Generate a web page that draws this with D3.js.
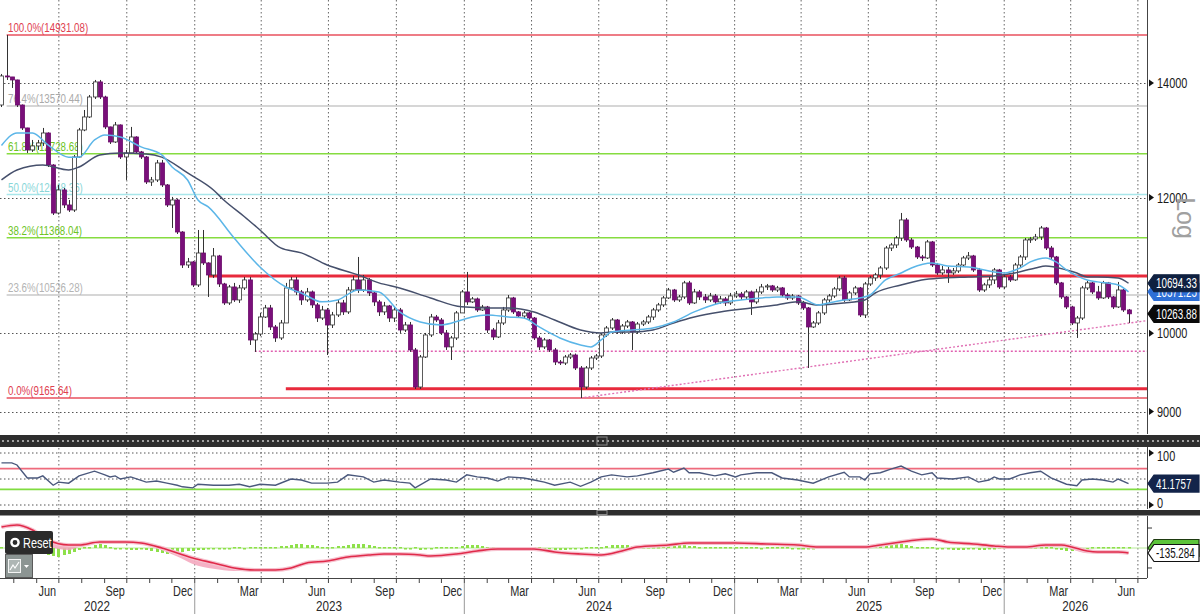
<!DOCTYPE html>
<html>
<head>
<meta charset="utf-8">
<script src="https://cdn.jsdelivr.net/npm/d3@7"></script>
<style>
  body { margin: 0; background: #fff; }
  svg { display: block; font-family: "Liberation Sans", Arial, sans-serif; }
</style>
</head>
<body>
<div id="chart"></div>
<script>
// weekly candles, first one is the week of 15 Apr 2022
const firstWeek = new Date(2022, 3, 15);
const firstOpen = 13590;

const closes = [
  14131,14112,14055,13590,13177,12793,12862,12914,13088,12537,
  11753,12123,11881,11801,12673,13141,13373,13737,14018,13737,
  13195,12931,13230,12673,12741,13018,12759,12673,12254,12287,
  12571,12205,11881,11961,11457,10960,11005,10670,11138,10990,
  10814,11094,10684,10415,10641,10457,10627,10742,9909,9989,
  10220,10345,10084,9936,10138,10627,10742,10570,10457,10570,
  10387,10206,10317,10111,10248,10415,10290,10598,10742,10598,
  10742,10556,10429,10290,10373,10206,10317,10043,10111,9777,
  9302,9685,9976,10220,10179,10003,9817,9936,10276,10570,
  10429,10471,10317,10359,10043,9949,10138,10317,10485,10290,
  10234,10276,10206,9936,9817,9909,9777,9620,9607,9685,
  9711,9543,9302,9543,9672,9698,9976,10070,10179,10016,
  10097,10152,10016,10124,10152,10220,10317,10387,10485,10598,
  10457,10499,10699,10415,10570,10499,10457,10513,10429,10471,
  10415,10513,10541,10499,10570,10429,10570,10641,10656,10598,
  10627,10527,10485,10513,10415,10345,10084,10138,10276,10457,
  10513,10613,10771,10457,10556,10627,10248,10684,10771,10814,
  10916,11213,11259,11365,11644,11335,11228,11079,11064,11305,
  10960,10844,10887,10844,10873,10960,11064,11094,10887,10598,
  10670,10742,10887,10641,10785,10742,10960,11079,11335,11350,
  11381,11519,11213,11079,10699,10499,10359,10138,10206,10627,
  10699,10570,10485,10699,10499,10359,10598,10317,10263.88
];

const highs = [
  14169,14931,14112,14060,13600,13180,12966,12966,13177,13100,
  12550,12205,12156,11961,12707,13177,13499,13774,14055,14055,
  13760,13200,13283,13240,12793,13195,13030,12776,12690,12337,
  12622,12622,12220,12010,11980,11470,11064,11020,11488,11488,
  11000,11213,11110,10700,10670,10699,10670,10785,10785,10016,
  10276,10387,10387,10111,10179,10699,10785,10785,10598,10627,
  10590,10415,10373,10345,10290,10457,10457,10641,10800,11079,
  10814,10771,10584,10457,10429,10387,10359,10345,10152,10152,
  9803,9711,10003,10262,10248,10206,10043,9963,10303,10598,
  10858,10499,10490,10387,10373,10070,10179,10359,10527,10500,
  10303,10303,10290,10220,9963,9936,9922,9803,9646,9711,
  9737,9730,9568,9568,9698,9724,10003,10097,10206,10193,
  10124,10179,10165,10152,10179,10248,10345,10415,10513,10627,
  10613,10527,10728,10728,10613,10598,10541,10556,10541,10513,
  10499,10556,10584,10570,10598,10590,10613,10684,10684,10670,
  10656,10641,10556,10541,10527,10443,10359,10165,10303,10485,
  10541,10641,10800,10800,10584,10656,10641,10713,10800,10844,
  10945,11244,11290,11396,11754,11675,11365,11244,11109,11335,
  11320,10990,10945,10931,10916,10990,11094,11153,11110,10916,
  10699,10785,10916,10902,10814,10814,10990,11109,11365,11381,
  11427,11550,11535,11244,11094,10713,10513,10375,10234,10656,
  10728,10713,10656,10728,10713,10513,10713,10613,10331
];

const lows = [
  13553,14055,13905,13553,13141,12741,12759,12793,12862,12503,
  11722,11730,11833,11770,11770,12656,13120,13355,13700,13700,
  13159,12896,12914,12639,12287,12724,12724,12639,12221,12189,
  12254,12172,11849,11519,11426,10916,10916,10641,10641,10960,
  10499,10771,10641,10387,10387,10429,10415,10598,9843,9751,
  9963,10206,10043,9883,9909,10138,10598,10527,10387,10429,
  10345,10152,10179,9711,10070,10220,10248,10262,10570,10556,
  10570,10513,10373,10234,10248,10152,10152,10003,10016,9751,
  9277,9277,9672,9949,10152,9976,9777,9646,9909,10276,
  10387,10415,10290,10303,10003,9909,9936,10111,10290,10262,
  10206,10206,10179,9909,9777,9790,9751,9581,9581,9581,
  9659,9517,9165.64,9277,9517,9646,9672,9949,10043,9990,
  9990,10070,9777,9990,10097,10124,10179,10290,10359,10471,
  10429,10429,10471,10387,10401,10457,10415,10429,10401,10401,
  10373,10387,10485,10457,10471,10248,10401,10541,10598,10570,
  10570,10499,10457,10457,10387,10317,9543,10070,10111,10248,
  10429,10485,10584,10429,10443,10527,10220,10206,10656,10728,
  10756,10887,11168,11213,11320,11305,11198,11049,11020,11049,
  10931,10814,10814,10699,10814,10844,10931,11034,10858,10570,
  10570,10627,10684,10613,10613,10713,10728,10931,11034,11290,
  11320,11335,11183,11049,10670,10471,10331,10111,9936,10179,
  10598,10541,10457,10471,10471,10331,10345,10290,10138
];

// moving averages (week index, value)
const fastWeeks = [0,3,6,9,13,15,18,20,23,27,31,33,36,38,40,45,50,55,58,62,65,69,73,77,81,85,89,91,94,98,101,104,108,112,114,116,118,122,126,130,134,139,143,147,150,154,158,160,163,166,168,171,174,176,180,183,187,192,194,197,199,202,204,206,208,210,212,216,218];
const fastValues = [12870,13090,13090,12880,12670,12670,12966,13053,13018,12845,12707,12503,12287,11961,11850,11365,10930,10640,10555,10430,10457,10598,10570,10290,10152,10111,10179,10220,10248,10220,10206,10084,9936,9843,9817,9909,10016,10043,10070,10152,10290,10415,10457,10485,10500,10500,10387,10415,10457,10485,10527,10742,10843,10916,10990,10945,10930,10858,10843,10916,11005,11065,11005,10887,10800,10742,10714,10670,10571.25];

const slowWeeks = [0,3,8,13,15,19,23,28,31,36,41,43,47,50,54,58,63,69,73,77,83,89,94,98,103,107,112,116,118,122,126,130,134,139,145,150,154,158,163,167,169,174,178,182,187,192,196,200,202,206,208,210,212,216,218];
const slowValues = [12287,12453,12537,12453,12503,12707,12740,12724,12670,12403,12123,11961,11695,11488,11214,11140,10960,10814,10700,10627,10485,10360,10345,10345,10290,10179,10043,10003,10016,10016,10043,10138,10220,10290,10345,10387,10430,10387,10415,10457,10555,10670,10742,10770,10785,10800,10843,10916,10945,10887,10843,10785,10785,10770,10694.33];

// RSI
const rsiWeeks = [0,2,3,5,7,8,10,11,13,15,18,20,21,22,23,25,28,30,32,34,35,37,38,41,44,46,48,50,53,56,58,60,63,65,67,70,72,74,77,79,80,83,86,88,90,92,94,96,98,101,103,105,107,110,112,114,116,118,121,123,126,129,130,132,133,135,138,140,142,143,146,149,151,154,157,160,163,164,166,167,168,170,172,174,176,178,180,181,184,187,189,191,192,193,195,197,199,201,203,206,208,209,211,213,215,216,218];
const rsiValues = [81,81,77,52,52,56,38,44,42,56,65,58,54,56,50,54,44,46,42,38,35,33,40,38,38,40,35,40,38,50,48,42,42,44,58,54,44,48,44,42,33,50,48,44,58,54,52,46,54,52,48,44,38,44,36,44,54,58,54,56,62,69,63,71,62,62,56,60,54,58,62,62,52,48,42,54,63,54,54,48,60,62,69,75,65,58,62,52,50,54,44,48,54,50,50,58,62,65,52,40,37,48,50,48,44,50,41.1757];
const rsiUpper = 70;
const rsiLower = 30;

// MACD
const macdWeeks = [0,3,6,9,13,15,19,24,27,31,34,37,41,45,49,53,56,59,63,67,71,74,77,81,83,88,92,96,103,107,112,116,120,123,129,133,137,142,148,154,158,162,167,170,174,177,180,183,188,192,195,198,202,205,207,210,212,216,218];
const macdValues = [567,621,486,216,81,81,162,162,135,0,-135,-270,-405,-540,-594,-594,-540,-405,-351,-243,-189,-162,-162,-189,-216,-162,-81,-27,-27,-108,-162,-189,-81,27,81,135,135,135,108,81,27,27,27,81,162,216,243,162,108,54,27,27,81,81,27,-81,-108,-108,-135.284];
const signalValues = [567,621,405,54,-54,27,162,162,135,-54,-230,-430,-560,-620,-610,-594,-540,-405,-351,-243,-189,-162,-162,-189,-216,-162,-81,-27,-27,-108,-162,-189,-81,27,81,135,135,135,108,81,27,27,27,110,200,260,270,190,108,54,27,27,81,81,-30,-140,-130,-110,-135];
const histValues = [
  27,0,-27,-54,-81,-81,-108,-135,-162,-189,
  -216,-243,-189,-162,-108,-54,0,27,81,108,81,27,
  -27,-27,-27,-54,-54,-27,-54,
  -81,-108,-135,-162,-162,-135,-108,-81,
  -81,-54,-54,-27,-27,-27,-27,-27,0,0,-27,0,0,27,
  0,27,27,54,54,81,108,108,81,81,54,27,27,27,54,54,
  81,108,108,108,81,54,27,27,0,0,0,-27,-27,0,
  -54,-27,-27,0,0,0,27,27,54,81,81,81,54,27,
  27,27,27,0,0,0,0,0,0,0,-27,-27,-54,-54,-54,-27,-27,-27,
  0,0,0,27,54,81,81,81,81,54,27,27,27,0,27,
  54,81,108,108,81,54,54,27,27,0,0,0,0,
  0,0,0,0,0,0,-27,0,0,0,0,0,-27,-27,-27,-27,-27,0,0,0,
  0,0,0,0,27,27,27,54,81,81,108,108,135,108,81,54,27,27,0,0,
  -27,-27,-27,-54,-54,-54,-27,-27,-54,-54,-27,-27,
  0,0,0,0,0,27,27,27,27,27,0,
  -27,-54,-81,-81,-54,-27,-27,0,0,0,0,0,0,0,0
];

// fibonacci retracement and drawn levels
const fibLabels = ["100.0%(14931.08)", "76.4%(13570.44)", "61.8%(12728.68)", "50.0%(12048.36)", "38.2%(11368.04)", "23.6%(10526.28)", "0.0%(9165.64)"];
const fibValues = [14931.08, 13570.44, 12728.68, 12048.36, 11368.04, 10526.28, 9165.64];
const fibFromWeek = 1;
const redLevels = [10800, 9280];
const redLevelWeeks = [40, 55];
const pinkLevel = 9760;
const pinkLevelWeek = 49;
const trendStart = [112, 9165.64];
const trendEnd = [new Date(2026, 6, 14), 10170];

const priceTicks = [14000, 12000, 10000, 9000];
const rsiTicks = [100, 0];
const rsiGrid = [100, 50, 0];
const macdTicks = [540, -540];

// ---------------------------------------------------------------
const W = 1200, H = 614, plotR = 1147;
const weekDate = i => d3.timeDay.offset(firstWeek, 7 * i);

const svg = d3.select("#chart").append("svg")
  .attr("width", W).attr("height", H);

const x = d3.scaleTime()
  .domain([new Date(2022, 3, 13), new Date(2026, 6, 14)])
  .range([0, plotR]);
const y = d3.scaleLog().domain([8756, 15650]).range([432, 0]);
const yRsi = d3.scaleLinear().domain([0, 100]).range([505, 453]);
const yMacd = d3.scaleLinear().domain([-1000, 900]).range([585, 514.7]);

const [d0, d1] = x.domain();

// clip for the panels
svg.append("clipPath").attr("id", "mainClip")
  .append("rect").attr("x", 0).attr("y", 0).attr("width", plotR).attr("height", 434);
svg.append("clipPath").attr("id", "lowClip")
  .append("rect").attr("x", 0).attr("y", 447).attr("width", plotR).attr("height", 140);

// vertical quarter gridlines
const quarters = d3.timeMonth.every(3).range(d0, d1);
svg.append("g").selectAll("line").data(quarters).join("line")
  .attr("x1", d => x(d) + 0.5).attr("x2", d => x(d) + 0.5)
  .attr("y1", 0).attr("y2", 578)
  .attr("stroke", "#666").attr("stroke-width", 1).attr("stroke-dasharray", "1.5,2.5");

// horizontal price gridlines
const main = svg.append("g").attr("clip-path", "url(#mainClip)");
main.append("g").selectAll("line").data(priceTicks).join("line")
  .attr("x1", 0).attr("x2", plotR)
  .attr("y1", d => Math.round(y(d)) + 0.5).attr("y2", d => Math.round(y(d)) + 0.5)
  .attr("stroke", "#555").attr("stroke-dasharray", "1.5,2.5");

// fibonacci lines and labels
const fibLine = ["#e8505e", "#c8c8c8", "#86dc40", "#a8e6ea", "#86dc40", "#c8c8c8", "#e8505e"];
const fibText = ["#e0404f", "#aaaaaa", "#6cc424", "#88d6d8", "#6cc424", "#b4b4b4", "#e0404f"];
const fx = x(weekDate(fibFromWeek));
fibValues.forEach((v, i) => {
  main.append("line")
    .attr("x1", fx).attr("x2", plotR)
    .attr("y1", y(v)).attr("y2", y(v))
    .attr("stroke", fibLine[i]).attr("stroke-width", 1.6);
  main.append("text")
    .attr("x", 8).attr("y", y(v) - 3)
    .attr("font-size", 12.5).attr("fill", fibText[i])
    .text(fibLabels[i]);
});

// drawn support / resistance
redLevels.forEach((v, i) => {
  main.append("line")
    .attr("x1", x(weekDate(redLevelWeeks[i]))).attr("x2", plotR)
    .attr("y1", y(v)).attr("y2", y(v))
    .attr("stroke", "#e82a3c").attr("stroke-width", 3);
});
main.append("line")
  .attr("x1", x(weekDate(pinkLevelWeek))).attr("x2", plotR)
  .attr("y1", y(pinkLevel)).attr("y2", y(pinkLevel))
  .attr("stroke", "#e060b0").attr("stroke-width", 1.6).attr("stroke-dasharray", "2,2");
main.append("line")
  .attr("x1", x(weekDate(trendStart[0]))).attr("y1", y(trendStart[1]))
  .attr("x2", x(trendEnd[0])).attr("y2", y(trendEnd[1]))
  .attr("stroke", "#e070b4").attr("stroke-width", 1.4).attr("stroke-dasharray", "2,2");

// candles
const candles = closes.map((c, i) => ({
  date: weekDate(i),
  open: i ? closes[i - 1] : firstOpen,
  high: highs[i], low: lows[i], close: c
}));
const cg = main.append("g");
cg.selectAll("line").data(candles).join("line")
  .attr("x1", d => Math.round(x(d.date)) + 0.5).attr("x2", d => Math.round(x(d.date)) + 0.5)
  .attr("y1", d => y(d.high)).attr("y2", d => y(d.low))
  .attr("stroke", "#333").attr("stroke-width", 1);
cg.selectAll("rect").data(candles).join("rect")
  .attr("x", d => Math.round(x(d.date)) - 1.5)
  .attr("width", 4)
  .attr("y", d => y(Math.max(d.open, d.close)))
  .attr("height", d => Math.max(1, y(Math.min(d.open, d.close)) - y(Math.max(d.open, d.close))))
  .attr("fill", d => d.close < d.open ? "#7a0f7a" : "#fff")
  .attr("stroke", d => d.close < d.open ? "#6a0a6a" : "#333")
  .attr("stroke-width", 0.8);

// moving averages
const maLine = d3.line()
  .x(d => x(weekDate(d[0]))).y(d => y(d[1]))
  .curve(d3.curveMonotoneX);
main.append("path").datum(slowWeeks.map((w, i) => [w, slowValues[i]]))
  .attr("d", maLine).attr("fill", "none")
  .attr("stroke", "#46506c").attr("stroke-width", 1.5);
main.append("path").datum(fastWeeks.map((w, i) => [w, fastValues[i]]))
  .attr("d", maLine).attr("fill", "none")
  .attr("stroke", "#5cb6e8").attr("stroke-width", 1.5);

// ---------------- RSI panel ----------------
const low = svg.append("g").attr("clip-path", "url(#lowClip)");
low.append("g").selectAll("line").data(rsiGrid).join("line")
  .attr("x1", 0).attr("x2", plotR)
  .attr("y1", d => yRsi(d)).attr("y2", d => yRsi(d))
  .attr("stroke", "#555").attr("stroke-dasharray", "1.5,2.5");
low.append("line").attr("x1", 0).attr("x2", plotR)
  .attr("y1", yRsi(rsiUpper)).attr("y2", yRsi(rsiUpper))
  .attr("stroke", "#ee6a7c").attr("stroke-width", 1.6);
low.append("line").attr("x1", 0).attr("x2", plotR)
  .attr("y1", yRsi(rsiLower)).attr("y2", yRsi(rsiLower))
  .attr("stroke", "#80dc40").attr("stroke-width", 1.6);
low.append("path")
  .datum(rsiWeeks.map((w, i) => [w, rsiValues[i]]))
  .attr("d", d3.line().x(d => x(weekDate(d[0]))).y(d => yRsi(d[1])))
  .attr("fill", "none").attr("stroke", "#4a587c").attr("stroke-width", 1.4);

// ---------------- MACD panel ----------------
low.append("line").attr("x1", 0).attr("x2", plotR)
  .attr("y1", yMacd(0)).attr("y2", yMacd(0))
  .attr("stroke", "#b8ea98").attr("stroke-width", 1);
low.append("g").selectAll("rect").data(histValues).join("rect")
  .attr("x", (d, i) => Math.round(x(weekDate(i))) - 1)
  .attr("width", 3)
  .attr("y", d => Math.min(yMacd(0), yMacd(d)) - (d === 0 ? 1 : 0))
  .attr("height", d => Math.max(1.5, Math.abs(yMacd(d) - yMacd(0))))
  .attr("fill", "#8ee04a");
const macdPts = macdWeeks.map((w, i) => [w, macdValues[i], signalValues[i]]);
low.append("path").datum(macdPts)
  .attr("d", d3.area().x(d => x(weekDate(d[0]))).y0(d => yMacd(d[1])).y1(d => yMacd(d[2])).curve(d3.curveMonotoneX))
  .attr("fill", "#f3a3bb").attr("opacity", 0.85);
low.append("path").datum(macdPts)
  .attr("d", d3.line().x(d => x(weekDate(d[0]))).y(d => yMacd(d[1])).curve(d3.curveMonotoneX))
  .attr("fill", "none").attr("stroke", "#f6c2cf").attr("stroke-width", 4);
low.append("path").datum(macdPts)
  .attr("d", d3.line().x(d => x(weekDate(d[0]))).y(d => yMacd(d[1])).curve(d3.curveMonotoneX))
  .attr("fill", "none").attr("stroke", "#e02a4a").attr("stroke-width", 1.6);

// ---------------- separators ----------------
svg.append("rect").attr("x", 0).attr("y", 435).attr("width", W).attr("height", 12).attr("fill", "#2e2e2e");
svg.append("line").attr("x1", 2).attr("x2", W).attr("y1", 441).attr("y2", 441)
  .attr("stroke", "#c8c8c8").attr("stroke-width", 1.4).attr("stroke-dasharray", "2,3");
svg.append("rect").attr("x", 0).attr("y", 510).attr("width", W).attr("height", 5.5).attr("fill", "#2e2e2e");
[[437, 8], [510.5, 4]].forEach(([gy, gh]) => {
  svg.append("rect").attr("x", 597).attr("y", gy).attr("width", 10).attr("height", gh)
    .attr("fill", "none").attr("stroke", "#8a8a8a").attr("stroke-width", 1);
});

// right border and axis
svg.append("g").selectAll("line").data([[0, 434], [447, 509], [516, 578]]).join("line")
  .attr("x1", plotR + 0.5).attr("x2", plotR + 0.5)
  .attr("y1", d => d[0]).attr("y2", d => d[1])
  .attr("stroke", "#444").attr("stroke-width", 1);

const arrow = (g, cy) => g.append("path")
  .attr("d", `M${plotR + 2},${cy - 3.5} L${plotR + 7},${cy} L${plotR + 2},${cy + 3.5} Z`)
  .attr("fill", "#111");

const axisR = svg.append("g").attr("font-size", 14).attr("fill", "#1a1a1a");
priceTicks.forEach(v => {
  arrow(axisR, y(v));
  axisR.append("text").attr("x", plotR + 10).attr("y", y(v)).attr("dy", "0.36em").text(v);
});
rsiTicks.forEach(v => {
  arrow(axisR, yRsi(v));
  axisR.append("text").attr("x", plotR + 10).attr("y", yRsi(v) + (v === 100 ? 3 : -2)).attr("dy", "0.36em").text(v);
});
macdTicks.forEach(v => {
  axisR.append("line").attr("x1", plotR).attr("x2", plotR + 5)
    .attr("y1", yMacd(v)).attr("y2", yMacd(v)).attr("stroke", "#333");
});

svg.append("text").attr("class", "wide")
  .attr("transform", "translate(1186,218) rotate(90)")
  .attr("text-anchor", "middle").attr("dy", "0.35em")
  .attr("font-size", 25).attr("fill", "#a0a0a0")
  .text("Log");

// value tags
function tag(cy, fill, stroke, color, label) {
  const h = 17, g = svg.append("g");
  g.append("path")
    .attr("d", `M${plotR + 1},${cy} L${plotR + 7},${cy - h / 2} H${W - 1} V${cy + h / 2} H${plotR + 7} Z`)
    .attr("fill", fill).attr("stroke", stroke).attr("stroke-width", 1.2);
  g.append("text").attr("class", "tag").attr("x", plotR + 9).attr("y", cy).attr("dy", "0.36em")
    .attr("font-size", 14).attr("fill", color).text(label);
}
const lastFast = fastValues[fastValues.length - 1];
const lastSlow = slowValues[slowValues.length - 1];
const lastClose = closes[closes.length - 1];
tag(y(lastFast), "#2e6fd6", "#2e6fd6", "#fff", lastFast.toFixed(2));
tag(y(lastSlow), "#0f2040", "#0f2040", "#fff", lastSlow.toFixed(2));
tag(y(lastClose), "#0a0a0a", "#0a0a0a", "#fff", lastClose.toFixed(2));
tag(yRsi(rsiValues[rsiValues.length - 1]), "#13244a", "#13244a", "#fff", rsiValues[rsiValues.length - 1].toFixed(4));
tag(yMacd(histValues[histValues.length - 1]), "#5cc43a", "#1e3a10", "#fff", "");
tag(yMacd(macdValues[macdValues.length - 1]), "#fff", "#111", "#111", macdValues[macdValues.length - 1].toFixed(3));

// ---------------- time axis ----------------
const ax = svg.append("g");
ax.append("line").attr("x1", 0).attr("x2", plotR).attr("y1", 578.5).attr("y2", 578.5)
  .attr("stroke", "#444");
const months = d3.timeMonth.range(d3.timeMonth.ceil(d0), d1);
ax.selectAll(".mt").data(months).join("line")
  .attr("x1", d => x(d) + 0.5).attr("x2", d => x(d) + 0.5)
  .attr("y1", 578).attr("y2", 583).attr("stroke", "#444");
const labelMonths = months.filter(d => d.getMonth() % 3 === 2);
ax.selectAll(".ml").data(labelMonths).join("text")
  .attr("x", d => (x(d) + x(d3.timeMonth.offset(d, 1))) / 2)
  .attr("y", 591).attr("dy", "0.35em").attr("text-anchor", "middle")
  .attr("font-size", 14).attr("fill", "#2a2a2a")
  .text(d3.timeFormat("%b"));
const years = d3.timeYear.range(d3.timeYear.floor(d0), d1);
ax.selectAll(".ys").data(years.filter(d => d > d0)).join("line")
  .attr("x1", d => x(d) + 0.5).attr("x2", d => x(d) + 0.5)
  .attr("y1", 583).attr("y2", H).attr("stroke", "#999");
ax.selectAll(".yl").data(years).join("text")
  .attr("x", d => (x(d3.max([d, d0])) + x(d3.min([d3.timeYear.offset(d, 1), d1]))) / 2)
  .attr("y", 606).attr("dy", "0.35em").attr("text-anchor", "middle")
  .attr("font-size", 15).attr("fill", "#2a2a2a")
  .text(d3.timeFormat("%Y"));

// ---------------- overlay controls ----------------
const ui = svg.append("g");
ui.append("rect").attr("x", 5).attr("y", 531).attr("width", 48).attr("height", 23)
  .attr("rx", 2).attr("fill", "#2b2b2b");
ui.append("circle").attr("cx", 15).attr("cy", 542.5).attr("r", 3.6)
  .attr("fill", "none").attr("stroke", "#fff").attr("stroke-width", 2.4);
ui.append("text").attr("x", 23).attr("y", 542.5).attr("dy", "0.36em")
  .attr("font-size", 14).attr("fill", "#fff").text("Reset");
ui.append("rect").attr("x", 5.5).attr("y", 554.5).attr("width", 27).attr("height", 23)
  .attr("fill", "#8c9593").attr("stroke", "#5a5a5a");
ui.append("rect").attr("x", 8.5).attr("y", 559.5).attr("width", 12).attr("height", 13)
  .attr("fill", "#aeb6b4").attr("stroke", "#f4f4f4").attr("stroke-width", 1);
ui.append("path").attr("d", "M10,570 L13,565 L15,568 L19,562")
  .attr("fill", "none").attr("stroke", "#fff").attr("stroke-width", 1.2);
ui.append("path").attr("d", "M24,565 L29,565 L26.5,568 Z").attr("fill", "#fff");

// Bloomberg-style narrow lettering: squeeze every label horizontally
svg.selectAll("text").filter(function () { return !this.classList.contains("wide"); })
  .each(function () {
    const w = this.getComputedTextLength();
    const k = this.classList.contains("tag") ? 0.7 : 0.78;
    if (w > 0) {
      this.setAttribute("textLength", (w * k).toFixed(1));
      this.setAttribute("lengthAdjust", "spacingAndGlyphs");
    }
  });
</script>
</body>
</html>
